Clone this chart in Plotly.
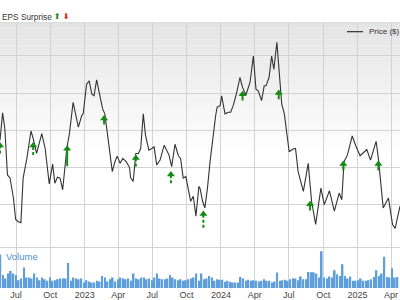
import pandas as pd
import plotly.graph_objects as go

# ---- price series ----
price_dates = [
    "2022-05-19", "2022-05-26", "2022-06-01", "2022-06-08", "2022-06-15", "2022-06-24", "2022-06-30",
    "2022-07-07", "2022-07-14", "2022-07-20", "2022-07-30", "2022-08-10", "2022-08-16", "2022-08-25",
    "2022-09-08", "2022-09-17", "2022-09-28", "2022-10-07", "2022-10-13", "2022-10-20", "2022-10-27",
    "2022-11-03", "2022-11-14", "2022-11-21", "2022-12-01", "2022-12-15", "2022-12-24", "2022-12-28",
    "2023-01-06", "2023-01-13", "2023-01-20", "2023-01-26", "2023-02-02", "2023-02-11", "2023-02-18",
    "2023-02-24", "2023-03-05", "2023-03-16", "2023-03-23", "2023-03-29", "2023-04-06", "2023-04-13",
    "2023-04-22", "2023-05-01", "2023-05-04", "2023-05-11", "2023-05-18", "2023-05-25", "2023-05-31",
    "2023-06-07", "2023-06-13", "2023-06-22", "2023-06-30", "2023-07-06", "2023-07-13", "2023-07-22",
    "2023-08-02", "2023-08-15", "2023-08-22", "2023-08-31", "2023-09-09", "2023-09-15", "2023-09-22",
    "2023-09-29", "2023-10-12", "2023-10-19", "2023-10-26", "2023-11-03", "2023-11-06", "2023-11-13",
    "2023-11-19", "2023-11-26", "2023-12-03", "2023-12-12", "2023-12-18", "2023-12-22", "2023-12-30",
    "2024-01-03", "2024-01-12", "2024-01-21", "2024-01-27", "2024-02-03", "2024-02-12", "2024-02-21",
    "2024-02-28", "2024-03-08", "2024-03-19", "2024-03-28", "2024-04-04", "2024-04-10", "2024-04-19",
    "2024-04-26", "2024-05-01", "2024-05-09", "2024-05-16", "2024-05-22", "2024-05-30", "2024-06-04",
    "2024-06-12", "2024-06-19", "2024-07-02", "2024-07-11", "2024-07-19", "2024-07-26", "2024-07-31",
    "2024-08-09", "2024-08-22", "2024-08-31", "2024-09-11", "2024-09-25", "2024-10-04", "2024-10-18",
    "2024-10-31", "2024-11-13", "2024-11-20", "2024-11-26", "2024-12-05", "2024-12-18", "2024-12-28",
    "2025-01-08", "2025-01-26", "2025-02-05", "2025-02-20", "2025-02-26", "2025-03-11", "2025-03-25",
    "2025-04-05", "2025-04-12", "2025-04-25",
]
price_values = [
    67.28, 74.67, 70.40, 57.95, 57.07, 51.73, 45.95,
    45.33, 45.10, 57.07, 62.40, 69.79, 67.73, 63.73,
    69.07, 65.07, 55.55, 60.88, 55.73, 57.33, 57.07,
    53.95, 65.07, 69.07, 77.52, 70.85, 73.95, 74.40,
    82.40, 83.28, 79.73, 79.28, 83.55, 79.28, 75.73,
    74.40, 66.85, 58.85, 61.52, 63.01, 61.07, 62.40,
    61.52, 60.00, 57.25, 56.19, 63.73, 63.73, 65.07,
    74.40, 68.61, 64.61, 65.07, 65.52, 60.61, 61.95,
    65.95, 63.28, 60.19, 66.21, 63.12, 62.40, 57.07,
    57.52, 50.85, 52.19, 46.85, 54.85, 54.40, 50.85,
    49.07, 54.40, 61.52, 69.52, 73.95, 76.19, 76.61,
    79.28, 74.40, 74.85, 74.85, 76.61, 80.00, 84.19,
    81.52, 79.47, 82.85, 89.95, 81.07, 80.61, 77.95,
    81.95, 81.95, 84.19, 89.95, 86.40, 93.68, 87.28,
    77.07, 74.40, 64.19, 64.88, 65.07, 58.85, 57.07,
    53.52, 61.07, 50.85, 44.61, 54.40, 49.95, 53.68,
    48.19, 53.07, 51.28, 61.52, 63.28, 68.45, 65.68,
    63.12, 64.80, 61.95, 67.01, 62.40, 49.07, 51.73,
    44.61, 43.55, 49.52,
]

# ---- EPS surprise arrows ----
eps_dates = ["2022-05-19", "2022-08-16", "2022-11-15", "2023-02-22", "2023-05-18", "2023-08-20",
             "2023-11-15", "2024-02-28", "2024-06-04", "2024-08-27", "2024-11-24", "2025-02-26"]
eps_head = [65.9, 65.9, 65.0, 73.15, 62.5, 58.05, 47.4, 79.65, 80.0, 50.05, 60.9, 60.9]
eps_tail = [63.7, 63.3, 60.3, 71.5, 60.2, 55.7, 43.7, 78.0, 78.3, 48.4, 59.2, 59.2]
eps_stem = ["3px,2px", "3px,2px", "solid", "solid", "3px,2px", "3px,2px", "3px,2px",
            "solid", "solid", "solid", "solid", "solid"]

# ---- weekly volume (millions) ----
vol_start = "2022-05-20"
volume = [
    3.40, 1.33, 0.97, 1.47, 1.73, 1.47, 1.33, 0.80, 0.97, 2.07, 1.07, 1.07, 0.97, 1.47, 1.07, 0.80,
    1.07, 0.90, 0.73, 1.07, 0.73, 0.80, 0.90, 0.97, 0.97, 0.97, 2.53, 0.73, 1.07, 0.97, 0.90, 0.97,
    0.57, 0.80, 0.67, 0.57, 0.57, 0.73, 0.67, 1.23, 1.07, 0.67, 0.90, 1.07, 0.67, 0.90, 1.07, 0.97,
    0.90, 0.97, 0.73, 1.47, 0.97, 0.90, 1.07, 1.07, 0.90, 0.97, 0.80, 1.07, 1.47, 0.97, 0.90, 0.90,
    0.97, 1.33, 1.07, 0.90, 0.80, 0.90, 0.73, 0.80, 0.90, 0.97, 1.07, 1.47,
    0.73, 1.47, 0.90, 0.97, 1.23, 1.07, 0.73, 0.90, 0.83, 0.83, 0.63, 0.73, 0.63, 0.57, 0.57, 0.57,
    1.13, 0.97, 0.73, 0.83, 0.73, 0.80, 0.73, 0.67, 0.73, 0.90, 0.73, 0.73, 0.57, 0.67, 1.57, 0.73,
    0.80, 0.83, 0.73, 0.90, 1.00, 0.97, 0.80, 1.17, 0.90, 0.90, 1.63, 1.60, 1.60, 1.47, 1.07, 3.73,
    1.07, 0.97, 1.17, 1.07, 1.80, 1.40, 1.23, 2.40, 1.23, 0.97, 1.17, 0.73, 0.73, 0.80, 0.97, 0.73,
    0.73, 0.80, 0.90, 1.13, 1.80, 1.23, 1.47, 3.17, 1.13, 1.07, 2.00, 1.07, 1.13,
]

tick_vals = ["2022-07-01", "2022-10-01", "2023-01-01", "2023-04-01", "2023-07-01", "2023-10-01",
             "2024-01-01", "2024-04-01", "2024-07-01", "2024-10-01", "2025-01-01", "2025-04-01"]
tick_text = ["Jul", "Oct", "2023", "Apr", "Jul", "Oct", "2024", "Apr", "Jul", "Oct", "2025", "Apr"]

x_range = ["2022-05-19", "2025-04-25"]
vol_dates = pd.date_range(vol_start, periods=len(volume), freq="7D")

W, H = 400, 300
GREEN = "#168a16"
GRID = "#d3d3d3"
FONT = "Liberation Sans, Arial, sans-serif"

def py(px):  # pixel row -> paper y
    return (H - px) / H

fig = go.Figure()

fig.add_trace(go.Scatter(x=price_dates, y=price_values, mode="lines",
                         line=dict(color="#333333", width=1.1), xaxis="x", yaxis="y",
                         showlegend=False, hoverinfo="skip"))

for d, h, t, s in zip(eps_dates, eps_head, eps_tail, eps_stem):
    fig.add_trace(go.Scatter(x=[d, d], y=[t, h], mode="lines",
                             line=dict(color=GREEN, width=2, dash=s),
                             xaxis="x", yaxis="y", showlegend=False, hoverinfo="skip"))
    fig.add_trace(go.Scatter(x=[d], y=[h], mode="markers",
                             marker=dict(symbol="triangle-up", size=7, color=GREEN),
                             xaxis="x", yaxis="y", showlegend=False, hoverinfo="skip"))

fig.add_trace(go.Bar(x=vol_dates, y=volume, marker=dict(color="#5e9edb", line=dict(width=0)),
                     xaxis="x2", yaxis="y2", showlegend=False, hoverinfo="skip"))

# background gradient for the price panel
shapes = []
n = 24
top, bot = 23, 160
for i in range(n):
    y0 = top + (bot - top) * i / n
    y1 = top + (bot - top) * (i + 1) / n
    c = int(round(229 + (255 - 229) * i / (n - 1)))
    shapes.append(dict(type="rect", xref="paper", yref="paper", x0=0, x1=1,
                       y0=py(y1), y1=py(y0), fillcolor=f"rgb({c},{c},{c})",
                       line=dict(width=0), layer="below"))
shapes.append(dict(type="line", xref="paper", yref="paper", x0=0, x1=1, y0=py(23), y1=py(23),
                   line=dict(color=GRID, width=1)))
shapes.append(dict(type="line", xref="paper", yref="paper", x0=0, x1=1, y0=py(250), y1=py(250),
                   line=dict(color=GRID, width=1)))
# manual legend line
shapes.append(dict(type="line", xref="paper", yref="paper", x0=347 / W, x1=363 / W,
                   y0=py(32), y1=py(32), line=dict(color="#333333", width=1.2)))

annotations = [
    dict(text="Price ($)", xref="paper", yref="paper", x=367 / W, y=py(32), xanchor="left",
         yanchor="middle", showarrow=False, font=dict(size=8, color="#333333", family=FONT)),
    dict(text="EPS Surprise", xref="paper", yref="paper", x=0, y=py(17), xanchor="left",
         yanchor="middle", showarrow=False, font=dict(size=8.3, color="#333333", family=FONT)),
    dict(text="⬆", xref="paper", yref="paper", x=58 / W, y=py(17), xanchor="center",
         yanchor="middle", showarrow=False,
         font=dict(size=8, color=GREEN, family="DejaVu Sans")),
    dict(text="⬇", xref="paper", yref="paper", x=66 / W, y=py(17), xanchor="center",
         yanchor="middle", showarrow=False,
         font=dict(size=8, color="#e8141b", family="DejaVu Sans")),
    dict(text="Volume", xref="paper", yref="paper", x=4 / W, y=py(259), xanchor="left",
         yanchor="middle", showarrow=False, font=dict(size=9.5, color="#4a90d9", family=FONT)),
]

fig.update_layout(
    width=W, height=H, margin=dict(l=0, r=0, t=0, b=0),
    paper_bgcolor="white", plot_bgcolor="white",
    font=dict(family=FONT, size=9, color="#444444"),
    bargap=0.35, showlegend=False,
    xaxis=dict(domain=[0, 1], anchor="y", range=x_range, tickvals=tick_vals, ticktext=tick_text,
               showticklabels=False, showgrid=True, gridcolor=GRID, gridwidth=1, zeroline=False,
               ticks=""),
    yaxis=dict(domain=[py(244), py(23)], anchor="x", range=[40, 40 + (244 - 23) / 37.5 * 10],
               tick0=40, dtick=10, showticklabels=False, showgrid=True, gridcolor=GRID,
               zeroline=False, ticks=""),
    xaxis2=dict(domain=[0, 1], anchor="y2", range=x_range, tickvals=tick_vals, ticktext=tick_text,
                showticklabels=True, showgrid=True, gridcolor=GRID, gridwidth=1, zeroline=False,
                ticks="", tickfont=dict(size=9, color="#444444")),
    yaxis2=dict(domain=[py(291), py(244)], anchor="x2", range=[0, 4.7], showticklabels=False,
                showgrid=False, zeroline=False, ticks=""),
    shapes=shapes, annotations=annotations,
)

fig.write_html("out.html")
